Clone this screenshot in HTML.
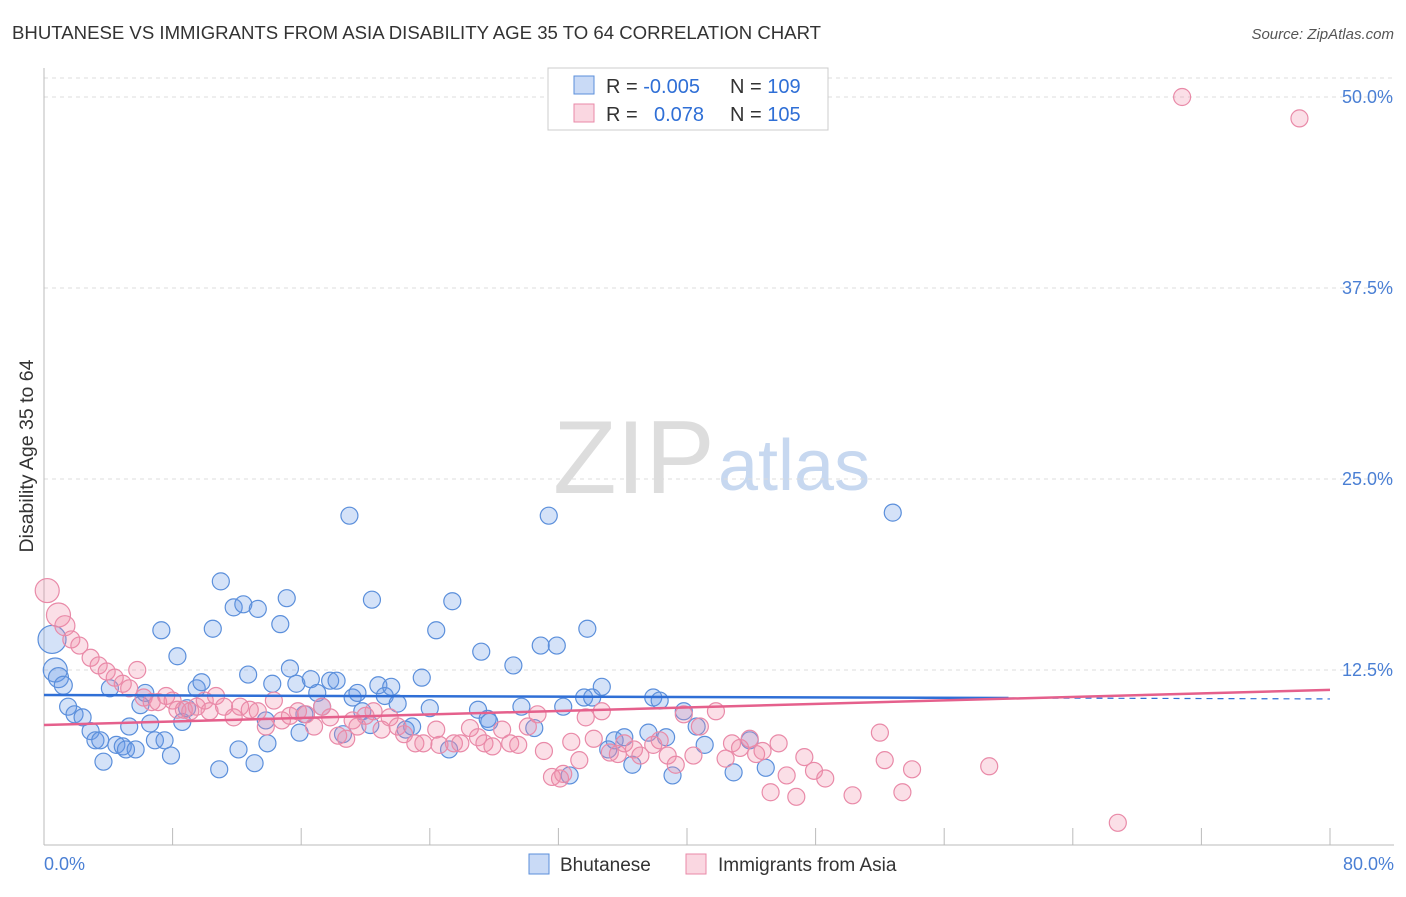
<!DOCTYPE html>
<html><head><meta charset="utf-8"><style>
body{margin:0;background:#fff;font-family:"Liberation Sans",sans-serif}
svg text{font-family:"Liberation Sans",sans-serif}
</style></head><body>
<svg width="1406" height="892">
<text x="12" y="39" font-size="18.6" fill="#333">BHUTANESE VS IMMIGRANTS FROM ASIA DISABILITY AGE 35 TO 64 CORRELATION CHART</text>
<text x="1394" y="39" font-size="15" fill="#555" font-style="italic" text-anchor="end">Source: ZipAtlas.com</text>
<g>
<text x="553" y="493" font-size="104" font-family="Liberation Serif" fill="#ddd">ZIP</text>
<text x="718" y="490" font-size="72" fill="#c7d8f0">atlas</text>
</g>
<g id="grid"></g>
<line x1="44" y1="68" x2="44" y2="845" stroke="#bbb"/>
<line x1="44" y1="845" x2="1394" y2="845" stroke="#bbb"/>
<g id="ticks"></g>
<text x="33" y="456" font-size="19.5" fill="#333" text-anchor="middle" transform="rotate(-90 33 456)">Disability Age 35 to 64</text>
<text x="44" y="870" font-size="18" fill="#4a7fd4">0.0%</text>
<text x="1394" y="870" font-size="18" fill="#4a7fd4" text-anchor="end">80.0%</text>
<g id="pts"></g>
<g id="lines"></g>
<g>
<rect x="548" y="68" width="280" height="62" fill="#fff" stroke="#ccc"/>
<rect x="574" y="76" width="20" height="18" fill="rgba(100,150,230,0.35)" stroke="#5b8fdb"/>
<rect x="574" y="104" width="20" height="18" fill="rgba(240,140,170,0.35)" stroke="#e98aa8"/>
<text x="606" y="93" font-size="20" fill="#333">R = <tspan fill="#2f6fd6">-0.005</tspan><tspan x="730">N = </tspan><tspan fill="#2f6fd6">109</tspan></text>
<text x="606" y="121" font-size="20" fill="#333">R = <tspan x="654" fill="#2f6fd6">0.078</tspan><tspan x="730">N = </tspan><tspan fill="#2f6fd6">105</tspan></text>
</g>
<g>
<rect x="529" y="854" width="20" height="20" fill="rgba(100,150,230,0.35)" stroke="#5b8fdb"/>
<text x="560" y="871" font-size="19" fill="#333">Bhutanese</text>
<rect x="686" y="854" width="20" height="20" fill="rgba(240,140,170,0.35)" stroke="#e98aa8"/>
<text x="718" y="871" font-size="19" fill="#333">Immigrants from Asia</text>
</g>
</svg>
<script>
const yTicks=[12.5,25,37.5,50];
const yTickLabels=["12.5%","25.0%","37.5%","50.0%"];
const xTicks=[0,8,16,24,32,40,48,56,64,72,80];
const blueX=[0.5,0.7,0.9,1.2,1.5,1.9,2.4,2.9,3.2,3.5,3.7,4.1,4.5,4.9,5.1,5.3,5.7,6.0,6.3,6.6,6.9,7.3,7.5,7.9,8.3,8.6,8.9,9.5,9.8,10.5,10.9,11.0,11.8,12.1,12.4,12.7,13.1,13.3,13.8,13.9,14.2,14.7,15.1,15.3,15.7,15.9,16.2,16.6,17.0,17.3,17.8,18.2,18.6,19.0,19.2,19.5,19.8,20.3,20.4,20.8,21.2,21.6,22.0,22.5,22.9,23.5,24.0,24.4,25.2,25.4,27.0,27.2,27.6,27.7,29.2,29.7,30.5,30.9,31.4,31.9,32.3,32.7,33.6,33.8,34.1,34.7,35.1,35.5,36.1,36.6,37.6,37.9,38.3,38.7,39.1,39.8,40.6,41.1,42.9,43.9,44.9,52.8];
const blueY=[14.5,12.5,12.0,11.5,10.1,9.6,9.4,8.5,7.9,7.9,6.5,11.3,7.6,7.5,7.3,8.8,7.3,10.2,11.0,9.0,7.9,15.1,7.9,6.9,13.4,9.1,10.0,11.3,11.7,15.2,6.0,18.3,16.6,7.3,16.8,12.2,6.4,16.5,9.2,7.7,11.6,15.5,17.2,12.6,11.6,8.4,9.6,11.9,11.0,10.1,11.8,11.8,8.3,22.6,10.7,11.0,9.8,8.9,17.1,11.5,10.8,11.4,10.3,8.6,8.8,12.0,10.0,15.1,7.3,17.0,9.9,13.7,9.3,9.1,12.8,10.1,8.7,14.1,22.6,14.1,10.1,5.6,10.7,15.2,10.7,11.4,7.3,7.9,8.1,6.3,8.4,10.7,10.5,8.1,5.6,9.8,8.8,7.6,5.8,7.9,6.1,22.8];
const pinkX=[0.2,0.9,1.3,1.7,2.2,2.9,3.4,3.9,4.4,4.9,5.3,5.8,6.2,6.7,7.1,7.6,8.0,8.3,8.7,9.1,9.5,10.0,10.3,10.7,11.2,11.8,12.2,12.8,13.3,13.8,14.3,14.8,15.3,15.8,16.3,16.8,17.3,17.8,18.3,18.8,19.2,19.5,20.0,20.5,21.0,21.5,22.0,22.4,23.1,23.6,24.4,24.6,25.5,25.9,26.5,27.0,27.4,27.9,28.5,29.0,29.5,30.1,30.7,31.1,31.6,32.1,32.3,32.8,33.3,33.7,34.2,34.7,35.2,35.7,36.1,36.7,37.1,37.9,38.3,38.8,39.3,39.8,40.4,40.8,41.8,42.4,42.8,43.3,43.9,44.3,44.7,45.2,45.7,46.2,46.8,47.3,47.9,48.6,50.3,52.0,52.3,53.4,54.0,58.8,66.8,70.8,78.1];
const pinkY=[17.7,16.1,15.4,14.5,14.1,13.3,12.8,12.4,12.0,11.6,11.3,12.5,10.7,10.4,10.4,10.8,10.5,9.9,9.9,9.8,10.1,10.5,9.8,10.8,10.1,9.4,10.1,9.9,9.8,8.8,10.5,9.2,9.5,9.8,9.6,8.8,10.1,9.4,8.2,8.0,9.2,8.8,9.5,9.8,8.6,9.4,8.8,8.3,7.7,7.7,8.6,7.6,7.7,7.7,8.7,8.1,7.7,7.5,8.6,7.7,7.6,8.8,9.6,7.2,5.5,5.4,5.7,7.8,6.6,9.4,8.0,9.8,7.1,7.0,7.7,7.3,6.9,7.6,7.9,6.9,6.3,9.6,6.9,8.8,9.8,6.7,7.7,7.4,8.0,7.0,7.2,4.5,7.7,5.6,4.2,6.8,5.9,5.4,4.3,8.4,6.6,4.5,6.0,6.2,2.5,50.0,48.6];
const blueBig=[14,12,10,9];
const pinkBig=[12,12,10];
const blueTrend=[10.86,10.67];
const pinkTrend=[8.9,11.2];
const NS="http://www.w3.org/2000/svg";
const X=v=>44+v*16.075, Y=v=>861-v*15.28;
function mk(t,a,p){const e=document.createElementNS(NS,t);for(const k in a)e.setAttribute(k,a[k]);p.appendChild(e);return e;}
const grid=document.getElementById('grid'),ticks=document.getElementById('ticks');
mk('line',{x1:44,y1:78,x2:1394,y2:78,stroke:'#ddd','stroke-dasharray':'4,4'},grid);
yTicks.forEach((t,i)=>{
 const l=mk('line',{x1:44,y1:Y(t),x2:1394,y2:Y(t),stroke:'#ddd','stroke-dasharray':'4,4'},grid);
 
 
 const tx=mk('text',{x:1393,y:Y(t)+6,'font-size':18,fill:'#4a7fd4','text-anchor':'end'},grid);
 tx.textContent=yTickLabels[i];
 
 
});
xTicks.forEach(t=>{
 const l=mk('line',{x1:X(t),y1:828,x2:X(t),y2:845,stroke:'#bbb'},ticks);
 
 
});
const pts=document.getElementById('pts');
blueX.forEach((v,i)=>{
 const c=mk('circle',{cx:X(v),cy:Y(blueY[i]),r:blueBig[i]||8.5,fill:'rgba(100,150,230,0.28)',stroke:'#5b8fdb','stroke-width':1.2},pts);
 
 
});
pinkX.forEach((v,i)=>{
 const c=mk('circle',{cx:X(v),cy:Y(pinkY[i]),r:pinkBig[i]||8.5,fill:'rgba(240,140,170,0.28)',stroke:'#e98aa8','stroke-width':1.2},pts);
 
 
});
const lines=document.getElementById('lines');
const slope=(blueTrend[1]-blueTrend[0])/60;
let b1=mk('line',{x1:X(0),y1:Y(blueTrend[0]),x2:X(60),y2:Y(blueTrend[1]),stroke:'#2f6fd6','stroke-width':2.5},lines);


let b2=mk('line',{x1:X(60),y1:Y(blueTrend[1]),x2:X(80),y2:Y(blueTrend[1]+slope*20),stroke:'#2f6fd6','stroke-width':1.2,'stroke-dasharray':'6,5'},lines);


let p1=mk('line',{x1:X(0),y1:Y(pinkTrend[0]),x2:X(80),y2:Y(pinkTrend[1]),stroke:'#e5608c','stroke-width':2.5},lines);


</script>
</body></html>
